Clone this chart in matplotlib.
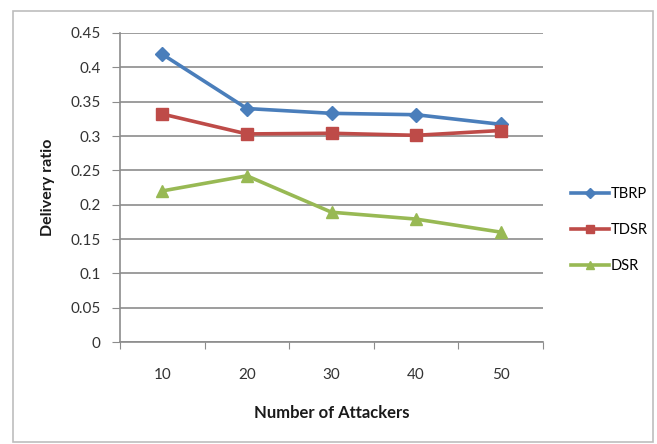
import matplotlib
matplotlib.use("Agg")
import matplotlib.pyplot as plt
from matplotlib.patches import Rectangle
import numpy as np

# Data
attackers = ["10", "20", "30", "40", "50"]
tbrp = [0.419, 0.340, 0.333, 0.331, 0.317]
tdsr = [0.332, 0.303, 0.304, 0.301, 0.308]
dsr = [0.220, 0.242, 0.189, 0.179, 0.160]
y_ticks = [0, 0.05, 0.1, 0.15, 0.2, 0.25, 0.3, 0.35, 0.4, 0.45]

plt.rcParams["font.family"] = ["Lato", "DejaVu Sans"]

W, H = 657, 444
fig = plt.figure(figsize=(W / 100, H / 100), dpi=100)
fig.patch.set_facecolor("white")

# Outer chart border
fig.patches.append(Rectangle((13 / W, 1 - 442 / H), 640 / W, 431 / H,
                             transform=fig.transFigure, fill=False,
                             edgecolor="#BDBDBD", linewidth=1.2))

ax = fig.add_axes([120 / W, 1 - 342 / H, 423 / W, 309 / H])
x = np.arange(len(attackers))

ax.plot(x, tbrp, color="#4A7EBB", lw=2.6, marker="D", ms=7, label="TBRP")
ax.plot(x, tdsr, color="#BE4B48", lw=2.6, marker="s", ms=8, label="TDSR")
ax.plot(x, dsr, color="#98B954", lw=2.6, marker="^", ms=8.5, label="DSR")

ax.set_xlim(-0.5, len(attackers) - 0.5)
ax.set_ylim(0, 0.45)
ax.set_yticks(y_ticks)
ax.set_yticklabels([f"{v:g}" for v in y_ticks])
ax.yaxis.grid(True, color="#8C8C8C", lw=1.2)
ax.set_axisbelow(True)

# Category boundaries carry the tick marks, centres carry the labels
ax.set_xticks(np.arange(-0.5, len(attackers), 1.0))
ax.set_xticklabels([])
ax.set_xticks(x, minor=True)
ax.set_xticklabels(attackers, minor=True)
ax.tick_params(axis="x", which="minor", length=0, pad=18.5, labelsize=11, colors="#333333")
ax.tick_params(axis="x", which="major", length=5, color="#8C8C8C")
ax.tick_params(axis="y", length=6, color="#8C8C8C", labelsize=11, labelcolor="#333333", pad=8)

for s in ["top", "right"]:
    ax.spines[s].set_visible(False)
for s in ["left", "bottom"]:
    ax.spines[s].set_color("#8C8C8C")
    ax.spines[s].set_linewidth(1.2)

ax.set_xlabel("Number of Attackers", fontsize=12, fontweight="bold", labelpad=17, color="#1a1a1a")
ax.set_ylabel("Delivery ratio", fontsize=11.5, fontweight="bold", labelpad=11, color="#1a1a1a")

leg = fig.legend(loc="center left", bbox_to_anchor=(558 / W, 1 - 230 / H),
                 frameon=False, fontsize=10.5, handlelength=2.6, markerscale=0.75,
                 labelspacing=1.5, handletextpad=0.1)

fig.savefig("out.png", dpi=100)
